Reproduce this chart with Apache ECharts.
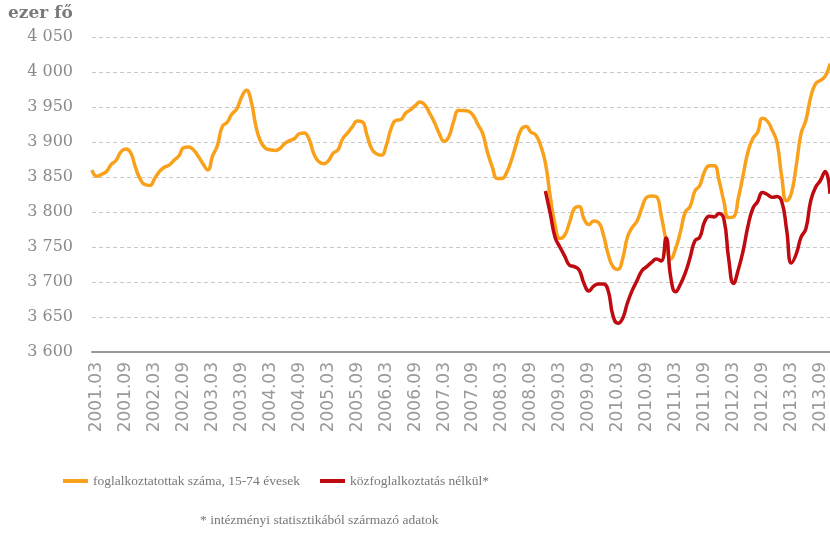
<!DOCTYPE html>
<html>
<head>
<meta charset="utf-8">
<script src="https://cdn.jsdelivr.net/npm/echarts@6/dist/echarts.min.js"></script>
<style>
  html, body { margin: 0; padding: 0; background: #fff; }
  #chart { width: 830px; height: 535px; }
</style>
</head>
<body>
<div id="chart"></div>
<script>
// monthly categories, 3-month moving average centre: 2001.02 .. 2013.11
const months = [];
for (let y = 2001; y <= 2013; y++) {
  for (let m = 1; m <= 12; m++) {
    if ((y === 2001 && m < 2) || (y === 2013 && m > 11)) continue;
    months.push(y + '.' + String(m).padStart(2, '0'));
  }
}

// foglalkoztatottak száma, 15-74 évesek (ezer fő)
const employed = [
  3860, 3851, 3854, 3858, 3868, 3874, 3886, 3890, 3885, 3864,
  3847, 3839, 3838, 3848, 3858, 3864, 3867, 3874, 3880, 3892,
  3893, 3889, 3880, 3869, 3860, 3880, 3895, 3922, 3928, 3940,
  3947, 3964, 3974, 3958, 3922, 3900, 3891, 3889, 3888, 3891,
  3898, 3902, 3905, 3912, 3913, 3904, 3883, 3872, 3869, 3873,
  3884, 3889, 3905, 3913, 3922, 3930, 3929, 3910, 3890, 3883,
  3881, 3895, 3919, 3931, 3932, 3941, 3946, 3952, 3957, 3953,
  3941, 3928, 3912, 3901, 3908, 3930, 3945, 3945, 3944, 3938,
  3925, 3912, 3885, 3864, 3848, 3848, 3857, 3875, 3898, 3918,
  3922, 3914, 3910, 3895, 3870, 3822, 3782, 3762, 3767, 3785,
  3805, 3808, 3790, 3782, 3787, 3785, 3768, 3740, 3722, 3718,
  3733, 3764, 3778, 3787, 3806, 3821, 3823, 3822, 3795, 3760,
  3733, 3748, 3772, 3800, 3808, 3830, 3838, 3858, 3866, 3866,
  3845, 3815, 3792, 3793, 3820, 3853, 3886, 3905, 3914, 3934,
  3930, 3917, 3900, 3850, 3816, 3827, 3866, 3912, 3931, 3964,
  3983, 3988, 3994, 4012
];

// közfoglalkoztatás nélkül, from 2008.12
const redStart = 94;
const withoutPublicWork = [
  3830, 3798, 3764, 3750, 3737, 3724, 3722, 3717, 3698, 3687,
  3694, 3697, 3697, 3688, 3652, 3641, 3648, 3670, 3688, 3702,
  3716, 3722, 3728, 3733, 3730, 3763, 3706, 3686, 3697, 3713,
  3735, 3759, 3764, 3786, 3794, 3793, 3798, 3790, 3733, 3698,
  3718, 3745, 3780, 3805, 3815, 3828, 3825, 3821, 3822, 3815,
  3775, 3727, 3740, 3764, 3776, 3816, 3835, 3845, 3858, 3826
];

const seriesNames = ['foglalkoztatottak száma, 15-74 évesek', 'közfoglalkoztatás nélkül*'];

const redData = new Array(redStart).fill(null).concat(withoutPublicWork);

const chart = echarts.init(document.getElementById('chart'));

const legendText = { color: '#777', fontSize: 13.5, fontFamily: 'Liberation Serif' };

chart.setOption({
  animation: false,
  grid: { left: 92, right: 0, top: 37, bottom: 183 },
  legend: [
    {
      data: [seriesNames[0]],
      left: 58, top: 469,
      icon: 'rect', itemWidth: 25, itemHeight: 4, itemGap: 4,
      textStyle: legendText
    },
    {
      data: [seriesNames[1]],
      left: 315, top: 469,
      icon: 'rect', itemWidth: 25, itemHeight: 4, itemGap: 4,
      textStyle: legendText
    }
  ],
  graphic: [
    {
      type: 'text', left: 8, top: 5,
      style: { text: 'ezer fő', fill: '#7a7a7a', font: 'bold 17px "DejaVu Serif"' }
    },
    {
      type: 'text', left: 200, top: 513,
      style: { text: '* intézményi statisztikából származó adatok', fill: '#777', font: '13.5px "Liberation Serif"' }
    }
  ],
  xAxis: {
    type: 'category',
    data: months,
    boundaryGap: false,
    axisLine: { lineStyle: { color: '#999', width: 2 } },
    axisTick: { show: false },
    axisLabel: {
      rotate: 90,
      margin: 10,
      color: '#9a9a9a',
      fontSize: 17,
      fontFamily: 'DejaVu Sans',
      interval: (idx, val) => /\.(03|09)$/.test(val)
    },
    splitLine: { show: false }
  },
  yAxis: {
    type: 'value',
    min: 3600, max: 4050, interval: 50,
    axisLine: { show: false },
    axisTick: { show: false },
    axisLabel: {
      margin: 19,
      color: '#8a8a8a',
      fontSize: 16,
      fontFamily: 'DejaVu Serif',
      formatter: v => String(v).replace(/\B(?=(\d{3})+(?!\d))/g, ' ')
    },
    splitLine: { lineStyle: { color: '#c8c8c8', type: [4, 3], width: 1 } }
  },
  series: [
    {
      name: seriesNames[0],
      type: 'line',
      data: employed,
      smooth: true,
      symbol: 'none',
      lineStyle: { color: '#F9A11B', width: 3.5 },
      itemStyle: { color: '#F9A11B' }
    },
    {
      name: seriesNames[1],
      type: 'line',
      data: redData,
      smooth: true,
      symbol: 'none',
      lineStyle: { color: '#BE0A10', width: 3.5 },
      itemStyle: { color: '#BE0A10' }
    }
  ]
});
</script>
</body>
</html>
